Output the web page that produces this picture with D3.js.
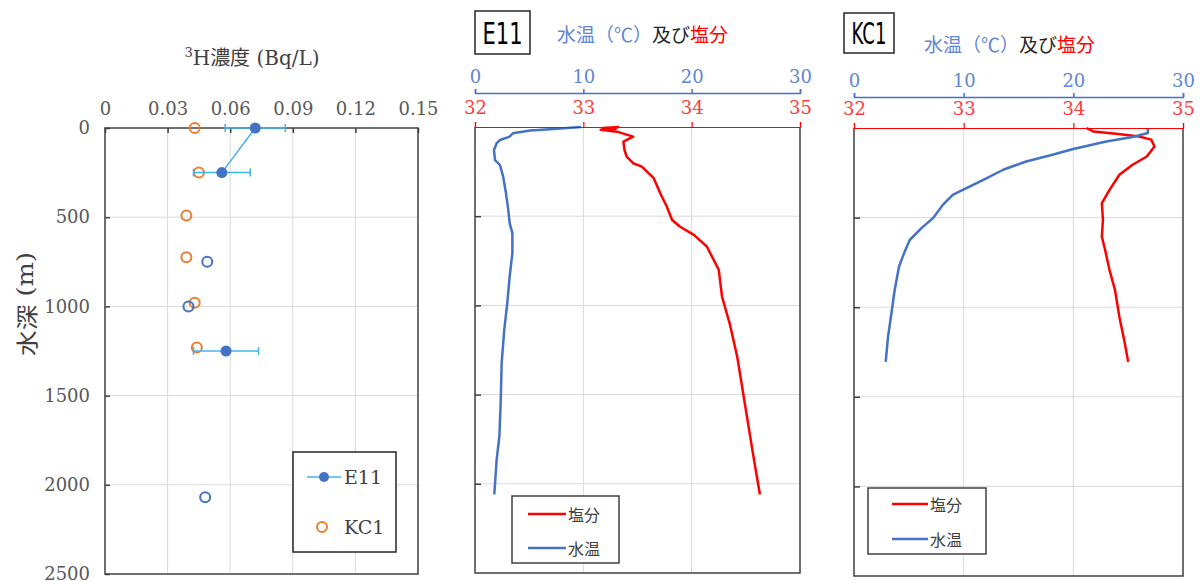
<!DOCTYPE html>
<html lang="ja">
<head>
<meta charset="UTF-8">
<title>E11 / KC1 tritium, temperature and salinity profiles</title>
<script src="https://d3js.org/d3.v7.min.js"></script>
<style>
  body { margin: 0; background: #fff; }
  svg text { font-family: "DejaVu Serif", "Liberation Serif", serif; }
  .jp { font-family: "Noto Sans CJK JP", sans-serif; }
  .grid line { stroke: #d9d9d9; stroke-width: 1; }
  .frame { stroke: #404040; stroke-width: 1.5; fill: none; }
</style>
</head>
<body>
<svg id="chart" width="1202" height="581"></svg>
<script>
// ---- tritium panel data ----
const depthTicks = [0, 500, 1000, 1500, 2000, 2500];
const h3Ticks = [0, 0.03, 0.06, 0.09, 0.12, 0.15];

// E11 detected values (null = below detection, breaks the line)
const e11Depth = [0, 250, 750, 1000, 1250, 2070];
const e11Conc  = [0.072, 0.056, null, null, 0.058, null];
const e11Err   = [0.0144, 0.0136, null, null, 0.0156, null];
// E11 hollow points
const e11NdDepth = [750, 1000, 2070];
const e11NdConc  = [0.049, 0.040, 0.048];
// KC1
const kc1Depth = [0, 250, 490, 725, 980, 1230];
const kc1Conc  = [0.043, 0.045, 0.039, 0.039, 0.043, 0.044];

// ---- CTD profiles ----
const e11TempDepth = [0, 13, 20, 35, 54, 73, 91, 129, 185, 213, 278, 371, 465, 539, 595, 707, 838, 987, 1137, 1323, 1547, 1734, 1865, 2060];
const e11Temp      = [9.8, 6.9, 5.1, 3.5, 3.2, 2.3, 2.0, 1.75, 1.85, 2.3, 2.6, 2.86, 3.07, 3.2, 3.45, 3.45, 3.2, 2.98, 2.7, 2.46, 2.37, 2.25, 2.0, 1.78];
const e11SalDepth  = [0, 5, 10, 15, 26, 54, 82, 129, 166, 203, 222, 287, 371, 446, 521, 558, 605, 670, 800, 950, 1099, 1286, 1435, 1622, 1846, 2060];
const e11Sal       = [33.33, 33.18, 33.30, 33.16, 33.31, 33.46, 33.37, 33.38, 33.40, 33.46, 33.54, 33.65, 33.71, 33.77, 33.82, 33.89, 34.02, 34.14, 34.25, 34.28, 34.35, 34.42, 34.46, 34.51, 34.57, 34.63];

const kc1TempDepth = [0, 28, 50, 75, 117, 149, 187, 233, 289, 336, 373, 429, 503, 559, 625, 690, 774, 904, 1035, 1166, 1305];
const kc1Temp      = [26.8, 26.8, 25.4, 23.0, 20.0, 18.1, 15.7, 13.6, 11.8, 10.25, 9.0, 8.1, 7.2, 6.15, 5.08, 4.62, 4.1, 3.71, 3.41, 3.1, 2.89];
const kc1SalDepth  = [0, 19, 32, 47, 65, 103, 159, 205, 261, 345, 419, 513, 606, 681, 793, 904, 1054, 1203, 1305];
const kc1Sal       = [34.12, 34.18, 34.39, 34.60, 34.71, 34.74, 34.67, 34.54, 34.42, 34.33, 34.26, 34.27, 34.26, 34.29, 34.33, 34.38, 34.42, 34.47, 34.50];

const tempTicks = [0, 10, 20, 30];
const salTicks = [32, 33, 34, 35];

const BLUE = "#4472C4", LIGHTBLUE = "#3fb4ee", ORANGE = "#ED7D31", RED = "#FF0000";
const SERIF = '"DejaVu Serif", "Liberation Serif", serif';
const svg = d3.select("#chart");

// ================= left panel: tritium =================
(function () {
  const x = d3.scaleLinear().domain([0, 0.15]).range([105, 418]);
  const y = d3.scaleLinear().domain([0, 2500]).range([128, 574]);
  const g = svg.append("g");

  // grid
  const grid = g.append("g").attr("class", "grid");
  grid.selectAll(".v").data(h3Ticks.slice(1, -1)).enter().append("line")
    .attr("x1", d => x(d)).attr("x2", d => x(d)).attr("y1", y(0)).attr("y2", y(2500));
  grid.selectAll(".h").data(depthTicks.slice(1, -1)).enter().append("line")
    .attr("x1", x(0)).attr("x2", x(0.15)).attr("y1", d => y(d)).attr("y2", d => y(d));

  // axes
  const xa = g.append("g").attr("transform", `translate(0,${y(0)})`)
    .call(d3.axisTop(x).tickValues(h3Ticks).tickSizeInner(-5).tickSizeOuter(0).tickPadding(13)
      .tickFormat(d => d === 0 ? "0" : d3.format(".2f")(d)));
  const ya = g.append("g").attr("transform", `translate(${x(0)},0)`)
    .call(d3.axisLeft(y).tickValues(depthTicks).tickSizeInner(-5).tickSizeOuter(0).tickPadding(15)
      .tickFormat(d3.format("d")));
  [xa, ya].forEach(a => {
    a.select(".domain").remove();
    a.selectAll("line").attr("stroke", "#404040").attr("stroke-width", 1.5);
    a.selectAll("text").attr("fill", "#595959").style("font-size", "18px")
      .style("font-family", SERIF);
  });

  g.append("rect").attr("class", "frame")
    .attr("x", x(0)).attr("y", y(0)).attr("width", x(0.15) - x(0)).attr("height", y(2500) - y(0));

  // titles
  const t = g.append("text").attr("x", 252).attr("y", 65).attr("text-anchor", "middle")
    .attr("fill", "#404040").style("font-size", "20px");
  t.append("tspan").text("3").style("font-size", "13px").attr("dy", "-8");
  t.append("tspan").text("H").attr("dy", "8");
  t.append("tspan").attr("class", "jp").text("濃度");
  t.append("tspan").text(" (Bq/L)");

  const yl = g.append("text")
    .attr("transform", "translate(25,304) rotate(-90)")
    .attr("text-anchor", "middle").attr("dominant-baseline", "central").attr("fill", "#404040")
    .attr("textLength", 104).attr("lengthAdjust", "spacingAndGlyphs")
    .style("font-size", "22px");
  yl.append("tspan").attr("class", "jp").text("水深");
  yl.append("tspan").text(" (m)");

  // KC1 hollow orange
  g.selectAll(".kc1").data(kc1Depth).enter().append("circle")
    .attr("cx", (d, i) => x(kc1Conc[i])).attr("cy", d => y(d)).attr("r", 5)
    .attr("fill", "none").attr("stroke", ORANGE).attr("stroke-width", 2);

  // E11 hollow blue
  g.selectAll(".e11nd").data(e11NdDepth).enter().append("circle")
    .attr("cx", (d, i) => x(e11NdConc[i])).attr("cy", d => y(d)).attr("r", 5)
    .attr("fill", "none").attr("stroke", BLUE).attr("stroke-width", 2);

  // E11 line + error bars + markers
  const e11 = e11Depth.map((d, i) => ({ d: d, c: e11Conc[i], e: e11Err[i] }));
  const line = d3.line().defined(p => p.c != null).x(p => x(p.c)).y(p => y(p.d));
  g.append("path").datum(e11).attr("d", line)
    .attr("fill", "none").attr("stroke", LIGHTBLUE).attr("stroke-width", 1.5);
  const det = e11.filter(p => p.c != null);
  const eb = g.selectAll(".eb").data(det).enter().append("g")
    .attr("stroke", LIGHTBLUE).attr("stroke-width", 1.5);
  eb.append("line").attr("x1", p => x(p.c - p.e)).attr("x2", p => x(p.c + p.e))
    .attr("y1", p => y(p.d)).attr("y2", p => y(p.d));
  eb.append("line").attr("x1", p => x(p.c - p.e)).attr("x2", p => x(p.c - p.e))
    .attr("y1", p => y(p.d) - 4).attr("y2", p => y(p.d) + 4);
  eb.append("line").attr("x1", p => x(p.c + p.e)).attr("x2", p => x(p.c + p.e))
    .attr("y1", p => y(p.d) - 4).attr("y2", p => y(p.d) + 4);
  g.selectAll(".e11pt").data(det).enter().append("circle")
    .attr("cx", p => x(p.c)).attr("cy", p => y(p.d)).attr("r", 5.5).attr("fill", BLUE);

  // legend
  const lg = g.append("g");
  lg.append("rect").attr("x", 293).attr("y", 452).attr("width", 103).attr("height", 100)
    .attr("fill", "#fff").attr("stroke", "#262626").attr("stroke-width", 1.5);
  lg.append("line").attr("x1", 307).attr("x2", 341).attr("y1", 477).attr("y2", 477)
    .attr("stroke", LIGHTBLUE).attr("stroke-width", 1.5);
  lg.append("circle").attr("cx", 324).attr("cy", 477).attr("r", 5).attr("fill", BLUE);
  lg.append("text").attr("x", 344).attr("y", 477).attr("dy", "0.35em").attr("fill", "#404040")
    .style("font-size", "19px").text("E11");
  lg.append("circle").attr("cx", 322).attr("cy", 527).attr("r", 5)
    .attr("fill", "none").attr("stroke", ORANGE).attr("stroke-width", 2);
  lg.append("text").attr("x", 344).attr("y", 527).attr("dy", "0.35em").attr("fill", "#404040")
    .style("font-size", "19px").text("KC1");
})();

// ================= profile panels =================
function profilePanel(cfg) {
  const tx = d3.scaleLinear().domain([0, 30]).range([cfg.x0, cfg.x1]);
  const sx = d3.scaleLinear().domain([32, 35]).range([cfg.x0, cfg.x1]);
  const y = d3.scaleLinear().domain([0, 2500]).range([cfg.y0, cfg.y1]);
  const g = svg.append("g");

  const grid = g.append("g").attr("class", "grid");
  grid.selectAll(".v").data(salTicks.slice(1, -1)).enter().append("line")
    .attr("x1", d => sx(d)).attr("x2", d => sx(d)).attr("y1", cfg.y0).attr("y2", cfg.y1);
  grid.selectAll(".h").data(depthTicks.slice(1, -1)).enter().append("line")
    .attr("x1", cfg.x0).attr("x2", cfg.x1).attr("y1", d => y(d)).attr("y2", d => y(d));

  // inner depth ticks, no labels
  const ya = g.append("g").attr("transform", `translate(${cfg.x0},0)`)
    .call(d3.axisLeft(y).tickValues(depthTicks.slice(1, -1)).tickSizeInner(-6).tickSizeOuter(0).tickFormat(""));
  ya.select(".domain").remove();
  ya.selectAll("line").attr("stroke", "#404040").attr("stroke-width", 1.5);

  // frame: left, right, bottom
  g.append("path").attr("class", "frame")
    .attr("d", `M${cfg.x0},${cfg.y0}V${cfg.y1}H${cfg.x1}V${cfg.y0}`);

  // profiles
  const line = d3.line().x(p => p[0]).y(p => p[1]);
  g.append("path")
    .attr("d", line(cfg.salDepth.map((d, i) => [sx(cfg.sal[i]), y(d)])))
    .attr("fill", "none").attr("stroke", RED).attr("stroke-width", 2.5).attr("stroke-linejoin", "round");
  g.append("path")
    .attr("d", line(cfg.tempDepth.map((d, i) => [tx(cfg.temp[i]), y(d)])))
    .attr("fill", "none").attr("stroke", BLUE).attr("stroke-width", 2.5).attr("stroke-linejoin", "round");

  // top axes
  const sa = g.append("g").attr("transform", `translate(0,${cfg.y0})`)
    .call(d3.axisTop(sx).tickValues(salTicks).tickSizeInner(5).tickSizeOuter(5).tickPadding(8)
      .tickFormat(d3.format("d")));
  sa.selectAll("path,line").attr("stroke", RED).attr("stroke-width", 1.2);
  sa.selectAll("text").attr("fill", "#ff3b3b").style("font-size", "18px");
  const ta = g.append("g").attr("transform", `translate(0,${cfg.tempAxisY})`)
    .call(d3.axisTop(tx).tickValues(tempTicks).tickSizeInner(4).tickSizeOuter(4).tickPadding(6)
      .tickFormat(d3.format("d")));
  ta.selectAll("path,line").attr("stroke", BLUE).attr("stroke-width", 1.5);
  ta.selectAll("text").attr("fill", "#5f86d4").style("font-size", "18px");
  [sa, ta].forEach(a => a.selectAll("text").style("font-family", SERIF));

  // station box
  g.append("rect").attr("x", cfg.box[0]).attr("y", cfg.box[1]).attr("width", cfg.box[2]).attr("height", cfg.box[3])
    .attr("fill", "#fff").attr("stroke", "#262626").attr("stroke-width", 1.5);
  g.append("text").attr("x", cfg.box[0] + cfg.box[2] / 2).attr("y", cfg.box[1] + cfg.box[3] / 2)
    .attr("text-anchor", "middle").attr("dominant-baseline", "central")
    .attr("textLength", cfg.nameW).attr("lengthAdjust", "spacingAndGlyphs")
    .style("font-family", '"DejaVu Sans", sans-serif').style("font-size", "31px")
    .attr("fill", "#000").text(cfg.name);

  const tt = g.append("text").attr("class", "jp").attr("x", cfg.titleX).attr("y", cfg.titleY)
    .attr("dominant-baseline", "central").style("font-size", "19px");
  tt.append("tspan").attr("fill", "#5f86d4").text("水温（℃）");
  tt.append("tspan").attr("fill", "#262626").text("及び");
  tt.append("tspan").attr("fill", RED).text("塩分");

  // legend
  const L = cfg.legend;
  g.append("rect").attr("x", L.x).attr("y", L.y).attr("width", L.w).attr("height", L.h)
    .attr("fill", "#fff").attr("stroke", "#404040").attr("stroke-width", 1.5);
  const items = [["塩分", RED, L.y1], ["水温", BLUE, L.y2]];
  items.forEach(it => {
    g.append("line").attr("x1", L.lx0).attr("x2", L.lx1).attr("y1", it[2]).attr("y2", it[2])
      .attr("stroke", it[1]).attr("stroke-width", 2.5);
    g.append("text").attr("class", "jp").attr("x", L.lx1 + 2).attr("y", it[2])
      .attr("dominant-baseline", "central").attr("fill", "#404040")
      .style("font-size", "16px").text(it[0]);
  });
}

profilePanel({
  x0: 475, x1: 800, y0: 127, y1: 573, tempAxisY: 93,
  name: "E11", nameW: 40, box: [475, 11, 55, 43], titleX: 557, titleY: 33,
  tempDepth: e11TempDepth, temp: e11Temp, salDepth: e11SalDepth, sal: e11Sal,
  legend: { x: 512, y: 496, w: 107, h: 67, y1: 514, y2: 548, lx0: 528, lx1: 566 }
});
profilePanel({
  x0: 854, x1: 1183, y0: 128, y1: 576, tempAxisY: 97,
  name: "KC1", nameW: 35, box: [844, 13, 50, 40], titleX: 924, titleY: 43,
  tempDepth: kc1TempDepth, temp: kc1Temp, salDepth: kc1SalDepth, sal: kc1Sal,
  legend: { x: 868, y: 488, w: 118, h: 66, y1: 504, y2: 539, lx0: 892, lx1: 928 }
});
</script>
</body>
</html>
